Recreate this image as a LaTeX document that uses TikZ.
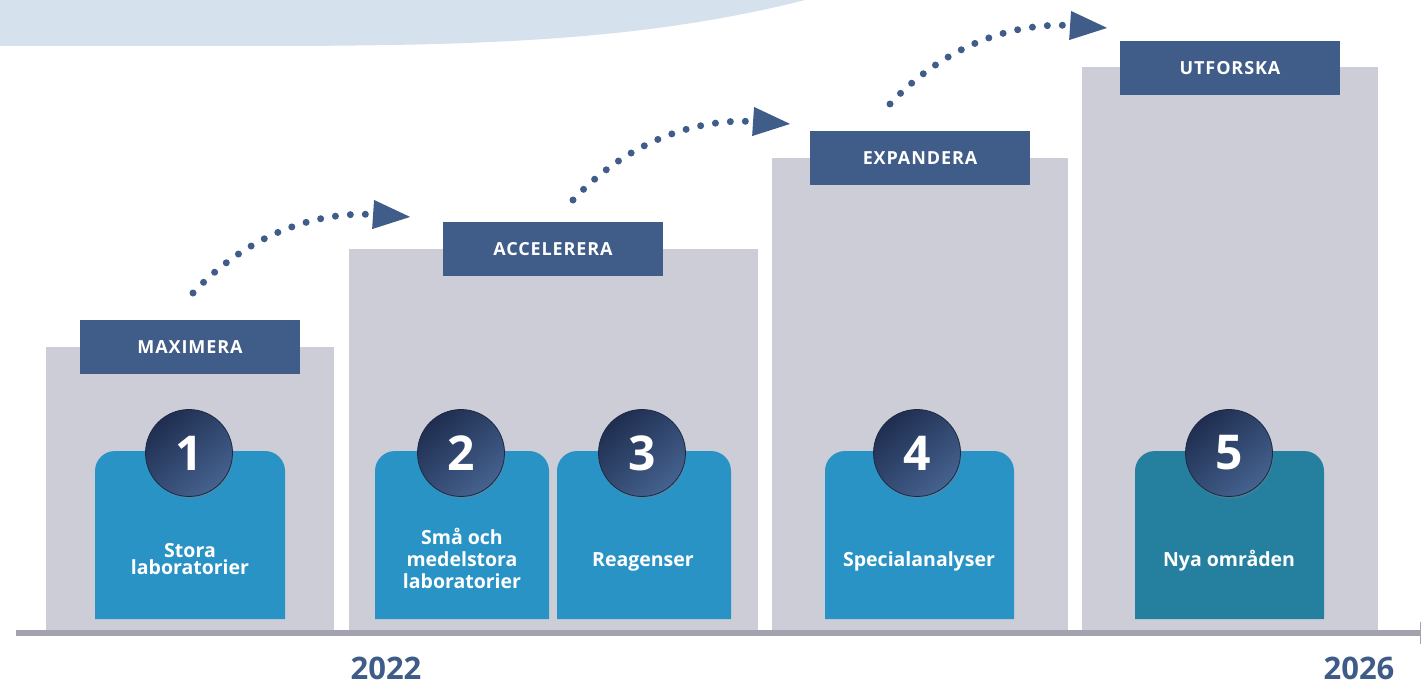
\documentclass[tikz,border=0pt]{standalone}
\usepackage{fontspec}
\setmainfont{Open Sans}
\usetikzlibrary{arrows.meta,shadows}
\definecolor{topc}{HTML}{D5E1EC}
\definecolor{barc}{HTML}{CDCDD7}
\definecolor{lblc}{HTML}{405C89}
\definecolor{axisc}{HTML}{A3A3B0}
\definecolor{boxc}{HTML}{2A93C6}
\definecolor{tealc}{HTML}{25809F}
\definecolor{numdark}{HTML}{1F2E50}
\definecolor{numlight}{HTML}{45628F}
\definecolor{numrim}{HTML}{1C2946}
\definecolor{yearc}{HTML}{3F5B87}
\begin{document}
\begin{tikzpicture}[x=1pt,y=-1pt,
  bar/.style={fill=barc},
  stage/.style={fill=lblc, text=white, inner sep=0pt, minimum width=220pt, minimum height=54pt,
    font=\bfseries\fontsize{18}{20}\selectfont\addfontfeature{LetterSpace=5}},
  num/.style={circle, minimum size=87pt, inner sep=0pt, draw=numrim, line width=0.8pt,
    top color=numdark, bottom color=numlight, shading angle=40,
    drop shadow={opacity=0.35, shadow xshift=1pt, shadow yshift=-2pt},
    text=white, font=\bfseries\fontsize{48}{48}\selectfont},
  itemtext/.style={text=white, align=center, inner sep=0pt, font=\bfseries\fontsize{19.5}{22}\selectfont},
  year/.style={text=yearc, inner sep=0pt, anchor=base, font=\bfseries\fontsize{31}{31}\selectfont},
  dots/.style={draw=lblc, line width=7pt, line cap=round, dash pattern=on 0pt off 15pt,
    -{Triangle[length=38pt,width=27pt]}}
]
\useasboundingbox (0,0) rectangle (1421,682);
% top wave
\fill[topc] (0,0) -- (805,0) .. controls (640,42) and (470,46) .. (250,46) -- (0,46) -- cycle;
% bars
\fill[bar] (46,347) rectangle (334,630);
\fill[bar] (349,249) rectangle (758,630);
\fill[bar] (772,158) rectangle (1068,630);
\fill[bar] (1082,67) rectangle (1378,630);
% axis
\draw[axisc, line width=6pt] (16,633) -- (1420,633);
\draw[axisc, line width=1pt] (1420,622) -- (1420,644);
% stage labels
\node[stage] (s1) at (190,347) {MAXIMERA};
\node[stage] (s2) at (553,249) {ACCELERERA};
\node[stage] (s3) at (920,158) {EXPANDERA};
\node[stage] (s4) at (1230,68) {UTFORSKA};
% item boxes
\fill[boxc] (95,619) [rounded corners=20pt] -- (95,451) -- (285,451) [sharp corners] -- (285,619) -- cycle;
\fill[boxc] (375,619) [rounded corners=20pt] -- (375,451) -- (549,451) [sharp corners] -- (549,619) -- cycle;
\fill[boxc] (557,619) [rounded corners=20pt] -- (557,451) -- (731,451) [sharp corners] -- (731,619) -- cycle;
\fill[boxc] (825,619) [rounded corners=20pt] -- (825,451) -- (1014,451) [sharp corners] -- (1014,619) -- cycle;
\fill[tealc] (1135,619) [rounded corners=20pt] -- (1135,451) -- (1324,451) [sharp corners] -- (1324,619) -- cycle;
% numbers
\node[num] (n1) at (189,453) {1};
\node[num] (n2) at (461,453) {2};
\node[num] (n3) at (642,453) {3};
\node[num] (n4) at (917,453) {4};
\node[num] (n5) at (1229,453) {5};
% item texts
\node[itemtext, font=\bfseries\fontsize{19.5}{17}\selectfont] (t1) at (190,559) {Stora\\laboratorier};
\node[itemtext] (t2) at (462,558) {Små och\\medelstora\\laboratorier};
\node[itemtext, anchor=base] (t3) at (643,566) {Reagenser};
\node[itemtext, anchor=base] (t4) at (919,566) {Specialanalyser};
\node[itemtext, anchor=base] (t5) at (1229,566) {Nya områden};
% years
\node[year] (y1) at (386,679) {2022};
\node[year] (y2) at (1359,679) {2026};
% dotted arrows
\coordinate (a1s) at (193,293);
\coordinate (a1e) at (411,217);
\draw[dots] (a1s) .. controls (250,232) and (320,211) .. (a1e);
\begin{scope}[shift={(380,-93)}]
\coordinate (a2s) at (193,293);
\coordinate (a2e) at (411,217);
\draw[dots] (a2s) .. controls (250,232) and (320,211) .. (a2e);
\end{scope}
\begin{scope}[shift={(697,-189)}]
\coordinate (a3s) at (193,293);
\coordinate (a3e) at (411,217);
\draw[dots] (a3s) .. controls (250,232) and (320,211) .. (a3e);
\end{scope}
\end{tikzpicture}
\end{document}
